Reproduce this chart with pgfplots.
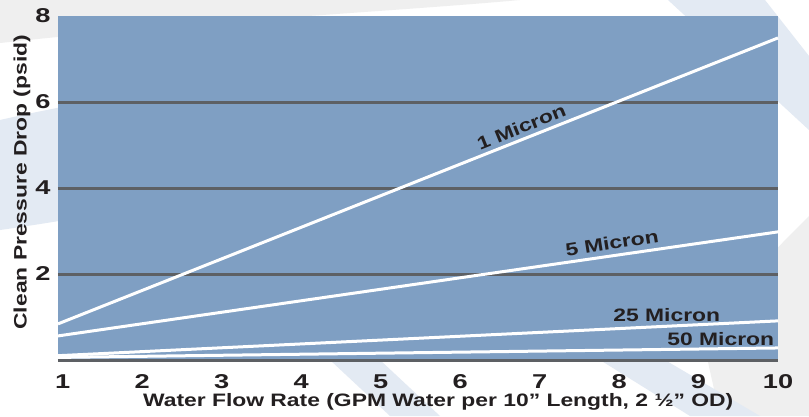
\documentclass[border=0pt]{standalone}
\usepackage{pgfplots}
\pgfplotsset{compat=1.18}
\usepackage{fontspec}
\setmainfont{Liberation Sans}[FakeStretch=1.27]
\newfontfamily\tickfont{Liberation Sans}[FakeStretch=1.36]
\definecolor{plotblue}{HTML}{7F9FC3}
\definecolor{gridgray}{HTML}{5D6064}
\definecolor{txt}{HTML}{231F20}
\definecolor{bggray}{HTML}{EFEFEF}
\definecolor{bgblue}{HTML}{E3EAF3}
\begin{document}
\begin{tikzpicture}[x=1pt,y=1pt]
% decorative background
\fill[white] (0,0) rectangle (809,416);
\fill[bggray] (0,416) -- (0,373) .. controls (200,395) and (400,405) .. (520,416) -- cycle;
\fill[bgblue] (0,296) .. controls (150,330) and (300,345) .. (420,350) -- (420,250) .. controls (250,230) and (100,200) .. (0,186) -- cycle;
\fill[bgblue] (668,416) -- (765,416) -- (809,360) -- (809,286) -- cycle;
\fill[bggray] (809,200) -- (700,90) -- (720,0) -- (809,0) -- cycle;
\fill[bgblue] (330,56) -- (380,56) -- (440,0) -- (390,0) -- cycle;
\fill[bgblue] (600,56) -- (665,56) -- (760,0) -- (690,0) -- cycle;
\begin{axis}[
  at={(58pt,56pt)}, anchor=south west,
  scale only axis, width=720pt, height=344pt,
  xmin=0.94, xmax=10, ymin=0, ymax=8,
  axis background/.style={fill=plotblue},
  axis line style={draw=none},
  xtick={1,2,...,10},
  ytick={0,2,4,6}, yticklabels={,2,4,6},
  extra y ticks={8}, extra y tick style={grid=none},
  ymajorgrids, major grid style={gridgray, line width=3pt},
  major tick length=0pt,
  /pgf/number format/assume math mode=true,
  ticklabel style={font=\tickfont\fontsize{20}{22}\selectfont\bfseries, text=txt},
  xticklabel style={yshift=-11pt},
  yticklabel style={xshift=-4pt},
  xlabel={Water Flow Rate (GPM Water per 10\char"201D{} Length, 2 \char"00BD\char"201D{} OD)},
  ylabel={Clean Pressure Drop (psid)},
  label style={font=\fontsize{18}{20}\selectfont\bfseries, text=txt},
  xlabel style={at={(axis description cs:0.528,-0.122)}, anchor=center},
  ylabel style={at={(axis description cs:-0.05,0.517)}, anchor=center},
  clip=false,
]
\addplot[white, line width=3pt] coordinates {(0.94,0.84) (10,7.49)};
\addplot[white, line width=3pt] coordinates {(0.94,0.56) (10,2.98)};
\addplot[white, line width=3pt] coordinates {(0.94,0.10) (10,0.91)};
\addplot[white, line width=3pt] coordinates {(0.94,0.06) (10,0.28)};
\node[rotate=22, text=txt, font=\fontsize{18}{20}\selectfont\bfseries] at (axis cs:6.77,5.42) {1 Micron};
\node[rotate=9, text=txt, font=\fontsize{18}{20}\selectfont\bfseries] at (axis cs:7.91,2.72) {5 Micron};
\node[text=txt, font=\fontsize{18}{20}\selectfont\bfseries] at (axis cs:8.60,1.05) {25 Micron};
\node[text=txt, font=\fontsize{18}{20}\selectfont\bfseries] at (axis cs:9.28,0.49) {50 Micron};
\end{axis}
\end{tikzpicture}
\end{document}
